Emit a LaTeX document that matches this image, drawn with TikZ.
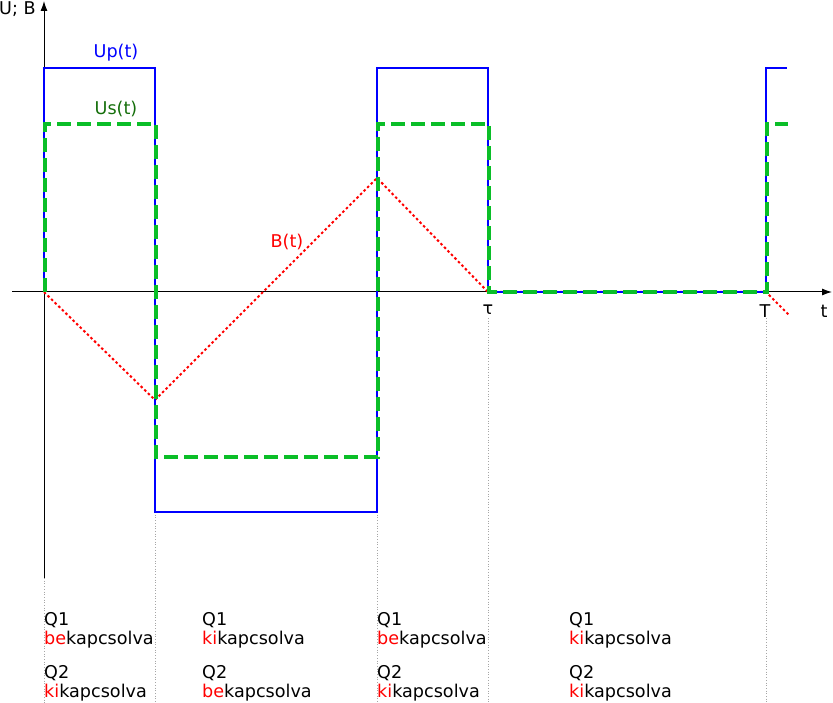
\documentclass[tikz,border=0pt]{standalone}
\usepackage{fontspec}
\setmainfont{DejaVu Sans}
\usetikzlibrary{arrows.meta}
\definecolor{gline}{RGB}{10,190,40}
\definecolor{glabel}{RGB}{20,110,10}
\begin{document}
\begin{tikzpicture}[x=1pt,y=-1pt,
  lbl/.style={font=\fontsize{17.6}{19}\selectfont, inner sep=0pt},
  txt/.style={font=\fontsize{17.6}{19}\selectfont, inner sep=0pt, anchor=north west, align=left},
  axis/.style={draw=black, line width=1pt, -{Latex[length=10pt,width=7pt]}},
  upl/.style={draw=blue, line width=2.4pt},
  usl/.style={draw=gline, line width=3.2pt, dash pattern=on 14pt off 6pt},
  bl/.style={draw=red, line width=2pt, dash pattern=on 2.5pt off 2.5pt},
  guide/.style={draw=gray!70, line width=0.7pt, dotted}]
\useasboundingbox (0,0) rectangle (833,703);
% guides
\coordinate (g0a) at (44,578); \coordinate (g0b) at (44,703);
\coordinate (g1a) at (155,512); \coordinate (g1b) at (155,703);
\coordinate (g2a) at (377,512); \coordinate (g2b) at (377,703);
\coordinate (g3a) at (488,318); \coordinate (g3b) at (488,703);
\coordinate (g4a) at (766,318); \coordinate (g4b) at (766,703);
\draw[guide] (g0a) -- (g0b);
\draw[guide] (g1a) -- (g1b);
\draw[guide] (g2a) -- (g2b);
\draw[guide] (g3a) -- (g3b);
\draw[guide] (g4a) -- (g4b);
% axes
\coordinate (yb) at (44,578); \coordinate (yt) at (44,1);
\coordinate (xl) at (12,292); \coordinate (xr) at (832,292);
\draw[axis] (yb) -- (yt);
\draw[axis] (xl) -- (xr);
\node[lbl, anchor=west] (ylab) at (-1,9) {U; B};
\node[lbl] (tlab) at (824,311) {t};
\node[lbl] (tau) at (488,310) {τ};
\node[lbl] (Tlab) at (765,311) {T};
% B(t)
\draw[bl] (44,292) -- (155,400) -- (377,178) -- (488,292) -- (766,292) -- (790,316);
% Up(t)
\draw[upl] (44,292) -- (44,68) -- (155,68) -- (155,512) -- (377,512) -- (377,68) -- (488,68) -- (488,292) -- (766,292) -- (766,68) -- (787,68);
% Us(t)
\draw[usl] (45,292) -- (45,124) -- (156,124) -- (156,457) -- (378,457) -- (378,124) -- (489,124) -- (489,292) -- (767,292) -- (767,124) -- (788,124);
% labels
\node[lbl, text=blue] (uplab) at (116,53) {Up(t)};
\node[lbl, text=glabel] (uslab) at (116,109) {Us(t)};
\node[lbl, text=red] (blab) at (287,242) {B(t)};
% bottom texts
\node[txt] (c1a) at (44,612) {Q1\\\textcolor{red}{be}kapcsolva};
\node[txt] (c1b) at (44,665) {Q2\\\textcolor{red}{ki}kapcsolva};
\node[txt] (c2a) at (202,612) {Q1\\\textcolor{red}{ki}kapcsolva};
\node[txt] (c2b) at (202,665) {Q2\\\textcolor{red}{be}kapcsolva};
\node[txt] (c3a) at (377,612) {Q1\\\textcolor{red}{be}kapcsolva};
\node[txt] (c3b) at (377,665) {Q2\\\textcolor{red}{ki}kapcsolva};
\node[txt] (c4a) at (569,612) {Q1\\\textcolor{red}{ki}kapcsolva};
\node[txt] (c4b) at (569,665) {Q2\\\textcolor{red}{ki}kapcsolva};
\end{tikzpicture}
\end{document}
